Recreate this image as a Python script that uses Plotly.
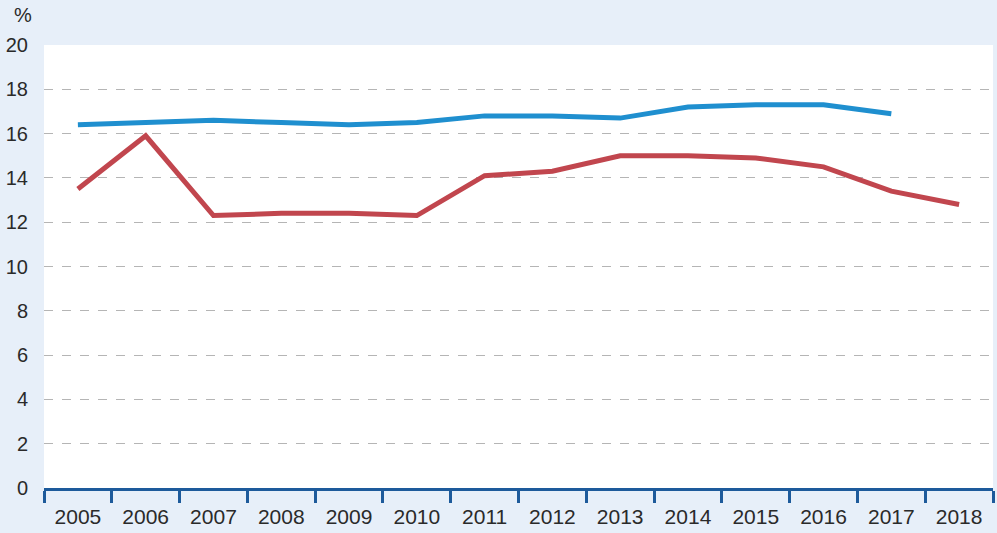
import plotly.graph_objects as go

years = ["2005", "2006", "2007", "2008", "2009", "2010", "2011", "2012",
         "2013", "2014", "2015", "2016", "2017", "2018"]
blue_vals = [16.4, 16.5, 16.6, 16.5, 16.4, 16.5, 16.8, 16.8, 16.7, 17.2, 17.3, 17.3, 16.9, None]
red_vals = [13.5, 15.9, 12.3, 12.4, 12.4, 12.3, 14.1, 14.3, 15.0, 15.0, 14.9, 14.5, 13.4, 12.8]
y_ticks = [0, 2, 4, 6, 8, 10, 12, 14, 16, 18, 20]

FONT = "Liberation Sans Narrow, Arial Narrow, sans-serif"
TXT = "#2a2a2a"

fig = go.Figure()
fig.add_trace(go.Scatter(x=years, y=blue_vals, mode="lines",
                         line=dict(color="#1f8fcf", width=5), showlegend=False))
fig.add_trace(go.Scatter(x=years, y=red_vals, mode="lines",
                         line=dict(color="#c1464e", width=5), showlegend=False))

fig.update_layout(
    width=997, height=533,
    margin=dict(l=44, r=4, t=45, b=45),
    paper_bgcolor="#e7eff9",
    plot_bgcolor="#ffffff",
    font=dict(family=FONT, size=20, color=TXT, weight=400),
    xaxis=dict(
        type="category", tickson="boundaries", ticks="outside", ticklen=12,
        tickwidth=3, tickcolor="#1d5a9b", showline=True, linecolor="#1d5a9b",
        linewidth=3, showgrid=False, range=[-0.5, 13.5], ticklabelstandoff=8,
        tickfont=dict(family=FONT, size=21, color=TXT, weight=400),
    ),
    yaxis=dict(
        range=[0, 20], tickvals=y_ticks, showgrid=True, gridcolor="#b5b5b5",
        griddash="dash", gridwidth=1, zeroline=False, showline=False,
        ticks="", ticklabelstandoff=15,
        tickfont=dict(family=FONT, size=20, color=TXT, weight=400),
    ),
    annotations=[dict(text="%", xref="paper", yref="paper", x=-0.034, y=1.0,
                      yshift=30, xanchor="left", yanchor="middle",
                      showarrow=False, font=dict(family=FONT, size=20, color=TXT, weight=400))],
)

fig.write_html("out.html", config={"displayModeBar": False},
               post_script="document.body.style.margin='0';document.body.style.overflow='hidden';")
